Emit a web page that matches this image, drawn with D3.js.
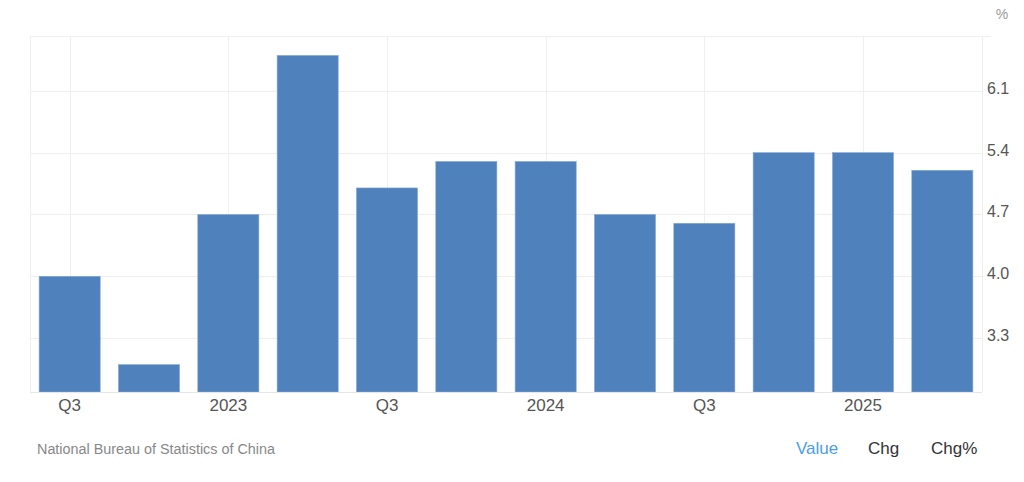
<!DOCTYPE html>
<html>
<head>
<meta charset="utf-8">
<script src="https://cdn.jsdelivr.net/npm/d3@7"></script>
<style>
  html, body { margin: 0; padding: 0; background: #fff; }
  svg { display: block; font-family: "Liberation Sans", Arial, sans-serif; }
</style>
</head>
<body>
<svg id="chart" width="1024" height="482"></svg>
<script>
// ---- data ----
const categories = ["2022 Q3","2022 Q4","2023 Q1","2023 Q2","2023 Q3","2023 Q4",
                    "2024 Q1","2024 Q2","2024 Q3","2024 Q4","2025 Q1","2025 Q2"];
const values = [4.0, 3.0, 4.7, 6.5, 5.0, 5.3, 5.3, 4.7, 4.6, 5.4, 5.4, 5.2];
const xTickCategories = ["2022 Q3","2023 Q1","2023 Q3","2024 Q1","2024 Q3","2025 Q1"];
const xTickLabels = ["Q3","2023","Q3","2024","Q3","2025"];
const yTicks = [3.3, 4.0, 4.7, 5.4, 6.1];
const yDomain = [2.69, 6.72];
const unitLabel = "%";
const sourceText = "National Bureau of Statistics of China";
const toggles = ["Value","Chg","Chg%"];

// ---- layout ----
const svg = d3.select("#chart");
const plotLeft = 30, plotRight = 982, plotTop = 36, plotBottom = 392;

const x = d3.scaleBand().domain(categories).range([plotLeft, plotRight])
  .paddingInner(0.23).paddingOuter(0.115);
const y = d3.scaleLinear().domain(yDomain).range([plotBottom, plotTop]);

const gridColor = "#efefef";

// horizontal gridlines
svg.append("g").selectAll("line").data(yTicks).join("line")
  .attr("x1", plotLeft).attr("x2", plotRight)
  .attr("y1", d => Math.round(y(d)) + 0.5).attr("y2", d => Math.round(y(d)) + 0.5)
  .attr("stroke", gridColor).attr("stroke-width", 1);

// vertical gridlines
svg.append("g").selectAll("line").data(xTickCategories).join("line")
  .attr("x1", d => Math.round(x(d) + x.bandwidth() / 2) + 0.5)
  .attr("x2", d => Math.round(x(d) + x.bandwidth() / 2) + 0.5)
  .attr("y1", plotTop).attr("y2", plotBottom)
  .attr("stroke", gridColor).attr("stroke-width", 1);

// plot frame
svg.append("line").attr("x1", plotLeft).attr("x2", plotRight + 9).attr("y1", plotTop + 0.5).attr("y2", plotTop + 0.5)
  .attr("stroke", gridColor);
svg.append("line").attr("x1", plotLeft + 0.5).attr("x2", plotLeft + 0.5).attr("y1", plotTop).attr("y2", plotBottom)
  .attr("stroke", gridColor);
svg.append("line").attr("x1", plotRight + 0.5).attr("x2", plotRight + 0.5).attr("y1", plotTop).attr("y2", plotBottom)
  .attr("stroke", gridColor);

// bars
svg.append("g").selectAll("rect").data(categories).join("rect")
  .attr("x", d => x(d))
  .attr("width", x.bandwidth())
  .attr("y", (d, i) => y(values[i]))
  .attr("height", (d, i) => y(yDomain[0]) - y(values[i]))
  .attr("fill", "#4f81bd")
  .attr("stroke", "#86a9d6").attr("stroke-width", 0.6);

// baseline
svg.append("line").attr("x1", plotLeft).attr("x2", plotRight).attr("y1", plotBottom + 0.5).attr("y2", plotBottom + 0.5)
  .attr("stroke", "#e6e6e6");

// right axis labels
const yAxis = d3.axisRight(y).tickValues(yTicks).tickFormat(d3.format(".1f")).tickSize(0).tickPadding(0);
const gy = svg.append("g").attr("transform", `translate(${plotRight + 5},0)`).call(yAxis);
gy.select(".domain").remove();
gy.selectAll("text").attr("font-size", 16).attr("fill", "#555")
  .attr("font-family", "'Liberation Sans', Arial, sans-serif")
  .attr("dy", "0.15em");

// bottom axis labels
const xAxis = d3.axisBottom(x).tickValues(xTickCategories)
  .tickFormat(d => xTickLabels[xTickCategories.indexOf(d)]).tickSize(0).tickPadding(0);
const gx = svg.append("g").attr("transform", `translate(0,${plotBottom})`).call(xAxis);
gx.select(".domain").remove();
gx.selectAll("text").attr("font-size", 17).attr("fill", "#555")
  .attr("font-family", "'Liberation Sans', Arial, sans-serif")
  .attr("dy", null).attr("y", 18.5);

// unit label
svg.append("text").attr("x", 1002).attr("y", 19).attr("text-anchor", "middle")
  .attr("font-size", 14).attr("fill", "#999").text(unitLabel);

// source
svg.append("text").attr("x", 37).attr("y", 454).attr("font-size", 14).attr("fill", "#888")
  .attr("textLength", 238).attr("lengthAdjust", "spacingAndGlyphs")
  .text(sourceText);

// toggles
const toggleX = [796, 868, 931];
svg.append("g").selectAll("text").data(toggles).join("text")
  .attr("x", (d, i) => toggleX[i]).attr("y", 454)
  .attr("font-size", 17)
  .attr("fill", (d, i) => i === 0 ? "#4aa0e6" : "#333")
  .text(d => d);
</script>
</body>
</html>
